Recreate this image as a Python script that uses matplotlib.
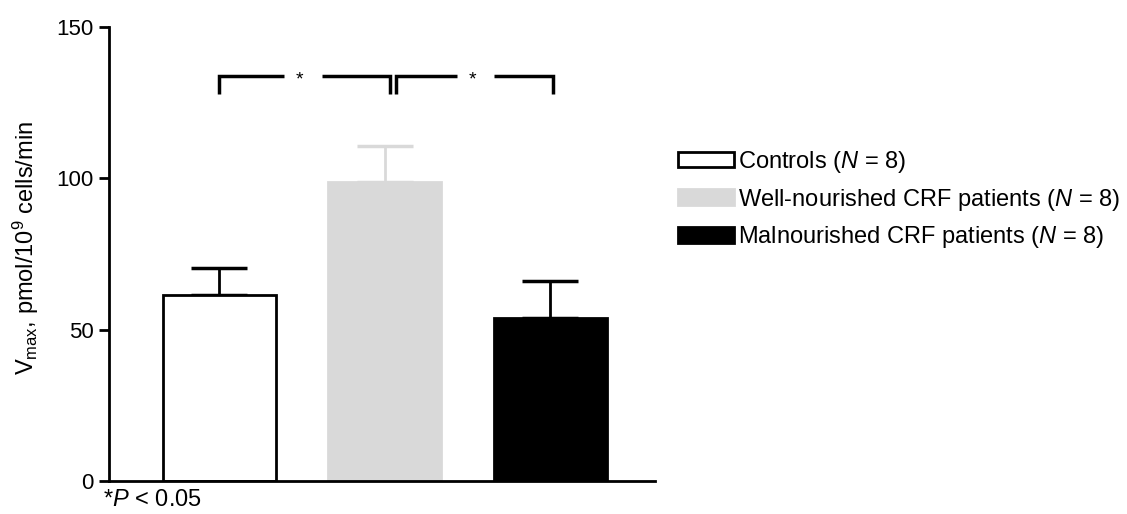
import matplotlib
matplotlib.use('Agg')
import matplotlib.pyplot as plt
import matplotlib.patches as mpatches
import numpy as np

plt.rcParams['font.family'] = 'Liberation Sans'
plt.rcParams['mathtext.fontset'] = 'custom'
plt.rcParams['mathtext.rm'] = 'Liberation Sans'
plt.rcParams['mathtext.it'] = 'Liberation Sans:italic'

groups = ['Controls', 'Well-nourished CRF patients', 'Malnourished CRF patients']
n_per_group = [8, 8, 8]
vmax_mean = [61.5, 98.8, 53.7]
vmax_sem = [8.8, 11.9, 12.5]
face_colors = ['white', '#d9d9d9', 'black']
edge_colors = ['black', '#d9d9d9', 'black']
err_colors = ['black', '#d9d9d9', 'black']

fig = plt.figure(figsize=(11.27, 5.14), dpi=100)
ax = fig.add_axes([0.0967, 0.0642, 0.4845, 0.8833])

x = np.arange(len(groups))
for i in range(len(groups)):
    ax.errorbar(x[i], vmax_mean[i], yerr=[[0], [vmax_sem[i]]], fmt='none',
                ecolor=err_colors[i], elinewidth=2, capsize=20, capthick=2.5, zorder=1)
    ax.bar(x[i], vmax_mean[i], width=0.683, color=face_colors[i],
           edgecolor=edge_colors[i], linewidth=2, zorder=2)

# significance brackets
def bracket(x0, x1, y, drop, gap0, gap1):
    ax.plot([x0, x0, gap0], [y - drop, y, y], color='black', lw=2.5,
            solid_capstyle='butt', solid_joinstyle='miter')
    ax.plot([gap1, x1, x1], [y, y, y - drop], color='black', lw=2.5,
            solid_capstyle='butt', solid_joinstyle='miter')
    ax.text((gap0 + gap1) / 2 - 0.02, y - 1.5, '*', ha='center', va='center', fontsize=14)

bracket(x[0], x[1] + 0.03, 133.9, 5.9, 0.39, 0.62)
bracket(x[1] + 0.07, x[2] + 0.02, 133.9, 5.9, 1.44, 1.66)

ax.set_xlim(-0.665, 2.634)
ax.set_ylim(0, 150)
ax.set_yticks([0, 50, 100, 150])
ax.set_xticks([])
ax.spines['top'].set_visible(False)
ax.spines['right'].set_visible(False)
ax.spines['left'].set_linewidth(2)
ax.spines['bottom'].set_linewidth(2)
ax.tick_params(axis='y', width=2, length=7, labelsize=16, pad=4)
ax.set_ylabel('V$_{\\rm max}$, pmol/10$^9$ cells/min', fontsize=17)
ax.yaxis.set_label_coords(-0.125, 0.513)

fig.text(0.0915, 0.027, '*$\\it{P}$ < 0.05', fontsize=17, ha='left', va='center')

handles = []
for i in range(len(groups)):
    handles.append(mpatches.Patch(facecolor=face_colors[i], edgecolor=edge_colors[i], linewidth=2,
                                  label='%s ($\\it{N}$ = %d)' % (groups[i], n_per_group[i])))
leg = fig.legend(handles=handles, loc='upper left', bbox_to_anchor=(0.583, 0.752),
                 frameon=False, fontsize=17, handlelength=2.35, handleheight=0.64,
                 handletextpad=0.2, labelspacing=0.5)

fig.savefig('out.png', dpi=100)
